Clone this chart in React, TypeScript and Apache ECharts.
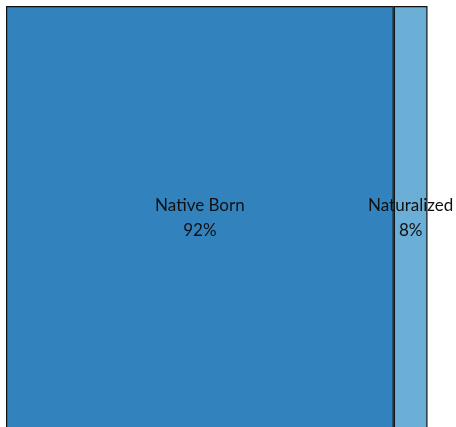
import React, { useEffect, useRef } from "react";
import * as echarts from "echarts";

const categories = ["Native Born", "Naturalized"];
const shares = [92, 8];
const colors = ["#3182bd", "#6baed6"];

export default function App() {
  const ref = useRef<HTMLDivElement>(null);
  useEffect(() => {
    if (!ref.current) return;
    const chart = echarts.init(ref.current, undefined, { renderer: "svg" });
    chart.setOption({
      animation: false,
      grid: { left: 6, top: 6, width: 421.5, height: 440, outerBoundsMode: "none", containLabel: false },
      xAxis: { type: "value", min: 0, max: 100, show: false },
      yAxis: { type: "category", data: ["all"], show: false },
      series: categories.map((name, i) => ({
        type: "bar",
        name,
        stack: "total",
        barWidth: "100%",
        data: [shares[i]],
        itemStyle: { color: colors[i], borderColor: "#111", borderWidth: 1.2 },
        label: {
          show: true,
          position: ["50%", 211],
          formatter: () => `${name}\n${shares[i]}%`,
          color: "#111",
          fontSize: 17,
          lineHeight: 25,
          fontFamily: "Lato",
          align: "center",
          verticalAlign: "middle",
        },
      })),
    });
    return () => chart.dispose();
  }, []);
  return (
    <div
      ref={ref}
      style={{ position: "fixed", left: 0, top: 0, width: 456, height: 427 }}
    />
  );
}
